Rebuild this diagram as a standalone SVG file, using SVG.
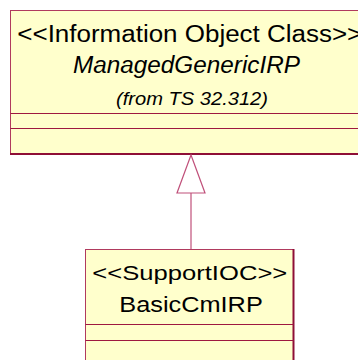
<svg xmlns="http://www.w3.org/2000/svg" width="358" height="360" viewBox="0 0 358 360">
  <style>
    .box { fill: #FFFFCC; stroke: #B03A5E; stroke-width: 1; }
    .edge { stroke: #8E0F36; stroke-width: 2; fill: none; }
    .div { stroke: #9E1840; stroke-width: 1; }
    .t { font-family: "Liberation Sans", Arial, sans-serif; fill: #000; }
    .conn { stroke: #C0507A; stroke-width: 1.2; fill: #FFFFFF; }
  </style>
  <rect width="358" height="360" fill="#FFFFFF"/>
  <g id="ManagedGenericIRP">
    <rect class="box" x="10.5" y="10.5" width="360" height="143"/>
    <line class="edge" x1="10" y1="154" x2="370" y2="154"/>
    <line class="div" x1="10.5" y1="113.5" x2="370" y2="113.5"/>
    <line class="div" x1="10.5" y1="128.5" x2="370" y2="128.5"/>
    <text class="t" x="17.3" y="41.5" font-size="23.5" textLength="345" lengthAdjust="spacingAndGlyphs">&lt;&lt;Information Object Class&gt;&gt;</text>
    <text class="t" x="73" y="73" font-size="23" font-style="italic" textLength="227" lengthAdjust="spacingAndGlyphs">ManagedGenericIRP</text>
    <text class="t" x="116" y="104.5" font-size="18.5" font-style="italic" textLength="152" lengthAdjust="spacingAndGlyphs">(from TS 32.312)</text>
  </g>
  <g id="connectors">
    <line class="conn" x1="191" y1="193" x2="191" y2="249"/>
    <polygon class="conn" points="191,155 205,193 177,193"/>
  </g>
  <g id="BasicCmIRP">
    <rect class="box" x="85.5" y="249.5" width="208" height="120"/>
    <line class="edge" x1="293.5" y1="249" x2="293.5" y2="370"/>
    <line class="div" x1="85.5" y1="324.5" x2="293.5" y2="324.5"/>
    <line class="div" x1="85.5" y1="340.5" x2="293.5" y2="340.5"/>
    <text class="t" x="92.3" y="280" font-size="21" textLength="195" lengthAdjust="spacingAndGlyphs">&lt;&lt;SupportIOC&gt;&gt;</text>
    <text class="t" x="119.3" y="311.5" font-size="22.5" textLength="143.5" lengthAdjust="spacingAndGlyphs">BasicCmIRP</text>
  </g>
</svg>
